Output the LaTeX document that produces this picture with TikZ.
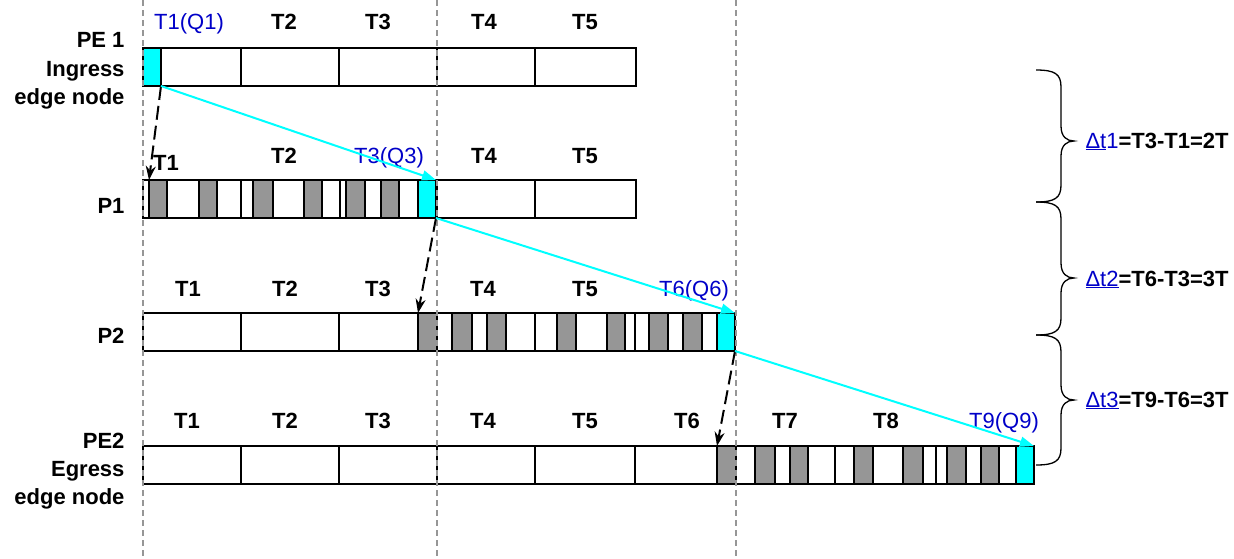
\documentclass[tikz,border=0pt]{standalone}
\usepackage{fontspec}
\setmainfont{Liberation Sans}
\usetikzlibrary{arrows.meta}
\definecolor{qcyan}{RGB}{0,255,255}
\definecolor{qblue}{RGB}{0,0,200}
\definecolor{cellgray}{RGB}{150,150,150}
\definecolor{gridgray}{RGB}{150,150,150}
\def\lblsize{\fontsize{22}{26}\selectfont}
\def\rbrace(#1:#2:#3:#4){\draw[line width=1.3pt] (#1,#2) .. controls ({#1+19},#2) and ({#1+25},{#2+4}) .. ({#1+25},{#2+17}) -- ({#1+25},{#3-15}) .. controls ({#1+25},{#3-4}) and ({#1+31},#3) .. ({#1+38},#3) .. controls ({#1+31},#3) and ({#1+25},{#3+4}) .. ({#1+25},{#3+15}) -- ({#1+25},{#4-17}) .. controls ({#1+25},{#4-4}) and ({#1+19},#4) .. (#1,#4);}

\begin{document}
\begin{tikzpicture}[x=1pt, y=-1pt,
	rowline/.style={line width=2pt},
	gcell/.style={draw, line width=2pt, fill=cellgray},
	gnode/.style={gcell, minimum height=38pt, inner sep=0pt, outer sep=0pt, anchor=north west},
	qcell/.style={draw, line width=2pt, fill=qcyan, minimum width=18pt, minimum height=38pt, inner sep=0pt, outer sep=0pt, anchor=north west},
	tlbl/.style={font=\lblsize\bfseries, anchor=base},
	qlbl/.style={font=\lblsize, text=qblue, anchor=base},
	sidelbl/.style={font=\lblsize\bfseries, anchor=base east},
	gridline/.style={gridgray, line width=1.5pt, dash pattern=on 6pt off 4pt},
	cyarrow/.style={qcyan, line width=2pt, -{Triangle[length=14pt,width=10pt]}},
	hoparrow/.style={line width=2pt, dash pattern=on 14pt off 6pt, -{Stealth[length=14pt,width=10pt]}}]
	\useasboundingbox (0,0) rectangle (1234,558);
	%%%%% START %%%%%
	
	% PE 1 ingress
	\draw[rowline, fill=white] (143,48) rectangle (636,86);
	\draw[rowline] (241,48) -- (241,86) (339,48) -- (339,86) (437,48) -- (437,86) (535,48) -- (535,86);
	\node[qcell] (q1) at (143,48) {};
	
	% P1
	\draw[rowline, fill=white] (143,180) rectangle (636,218);
	\draw[rowline] (241,180) -- (241,218) (340,180) -- (340,218) (437,180) -- (437,218) (535,180) -- (535,218);
	\draw[gcell] (199,180) rectangle (217,218) (253,180) rectangle (273,218) (304,180) rectangle (322,218)
		(346,180) rectangle (365,218) (381,180) rectangle (399,218);
	\node[gnode, minimum width=18pt] (g1) at (149,180) {};
	\node[qcell] (q3) at (418,180) {};
	
	% P2
	\draw[rowline, fill=white] (143,313) rectangle (735,351);
	\draw[rowline] (241,313) -- (241,351) (339,313) -- (339,351) (535,313) -- (535,351) (635,313) -- (635,351);
	\draw[gcell] (452,313) rectangle (472,351) (487,313) rectangle (506,351) (557,313) rectangle (576,351)
		(607,313) rectangle (625,351) (649,313) rectangle (668,351) (683,313) rectangle (702,351);
	\node[gnode, minimum width=19pt] (g2) at (418,313) {};
	\node[qcell] (q6) at (717,313) {};
	
	% PE2 egress
	\draw[rowline, fill=white] (143,446) rectangle (1034,484);
	\draw[rowline] (241,446) -- (241,484) (339,446) -- (339,484) (437,446) -- (437,484) (535,446) -- (535,484)
		(635,446) -- (635,484) (835,446) -- (835,484) (936,446) -- (936,484);
	\draw[gcell] (755,446) rectangle (775,484) (790,446) rectangle (808,484) (854,446) rectangle (873,484)
		(903,446) rectangle (923,484) (947,446) rectangle (966,484) (981,446) rectangle (999,484);
	\node[gnode, minimum width=19pt] (g3) at (717,446) {};
	\node[qcell] (q9) at (1016,446) {};
	
	% time grid
	\draw[gridline] (143,0) -- (143,558);
	\draw[gridline] (437,0) -- (437,558);
	\draw[gridline] (736,0) -- (736,558);
	
	% node names
	\node[sidelbl] (pe1a) at (128,47) {PE 1};
	\node[sidelbl] (pe1b) at (128,76) {Ingress};
	\node[sidelbl] (pe1c) at (128,104) {edge node};
	\node[sidelbl] (p1) at (128,213) {P1};
	\node[sidelbl] (p2) at (128,343) {P2};
	\node[sidelbl] (pe2a) at (128,448) {PE2};
	\node[sidelbl] (pe2b) at (128,476) {Egress};
	\node[sidelbl] (pe2c) at (128,504) {edge node};
	
	% slot labels
	\node[qlbl] (l1t1) at (189,29) {T1(Q1)};
	\node[tlbl] (l1t2) at (284,29) {T2};
	\node[tlbl] (l1t3) at (378,29) {T3};
	\node[tlbl] (l1t4) at (484,29) {T4};
	\node[tlbl] (l1t5) at (585,29) {T5};
	
	\node[tlbl] (l2t1) at (166,170) {T1};
	\node[tlbl] (l2t2) at (284,163) {T2};
	\node[qlbl] (l2t3) at (389,163) {T3(Q3)};
	\node[tlbl] (l2t4) at (484,163) {T4};
	\node[tlbl] (l2t5) at (585,163) {T5};
	
	\node[tlbl] (l3t1) at (188,296) {T1};
	\node[tlbl] (l3t2) at (285,296) {T2};
	\node[tlbl] (l3t3) at (378,296) {T3};
	\node[tlbl] (l3t4) at (483,296) {T4};
	\node[tlbl] (l3t5) at (585,296) {T5};
	\node[qlbl] (l3t6) at (694,296) {T6(Q6)};
	
	\node[tlbl] (l4t1) at (187,428) {T1};
	\node[tlbl] (l4t2) at (285,428) {T2};
	\node[tlbl] (l4t3) at (378,428) {T3};
	\node[tlbl] (l4t4) at (483,428) {T4};
	\node[tlbl] (l4t5) at (585,428) {T5};
	\node[tlbl] (l4t6) at (687,428) {T6};
	\node[tlbl] (l4t7) at (785,428) {T7};
	\node[tlbl] (l4t8) at (886,428) {T8};
	\node[qlbl] (l4t9) at (1004,428) {T9(Q9)};
	
	% hops
	\draw[hoparrow] (q1.south east) -- (g1.north west);
	\draw[hoparrow] (q3.south east) -- (g2.north west);
	\draw[hoparrow] (q6.south east) -- (g3.north west);
	\draw[cyarrow] (q1.south east) -- (q3.north east);
	\draw[cyarrow] (q3.south east) -- (q6.north east);
	\draw[cyarrow] (q6.south east) -- (q9.north east);
	
	% delays
	\rbrace(1036:70:141:202)
	\rbrace(1036:202:278:335)
	\rbrace(1036:335:400:465)
	\node[font=\lblsize\bfseries, anchor=base west] (dt1) at (1082,148) {{\mdseries\color{qblue}\underline{Δt}1}=T3-T1=2T};
	\node[font=\lblsize\bfseries, anchor=base west] (dt2) at (1082,286) {{\mdseries\color{qblue}\underline{Δt2}}=T6-T3=3T};
	\node[font=\lblsize\bfseries, anchor=base west] (dt3) at (1082,407) {{\mdseries\color{qblue}\underline{Δt3}}=T9-T6=3T};
	
	%%%%% END %%%%%
\end{tikzpicture}
\end{document}
